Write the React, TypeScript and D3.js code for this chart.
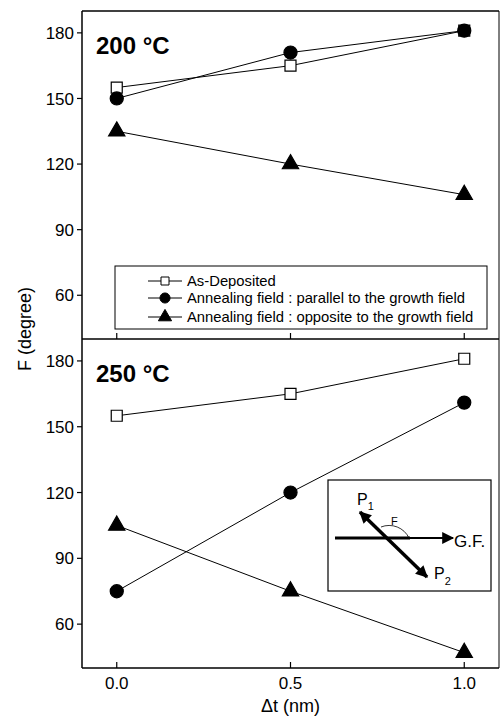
import React from "react";
import * as d3 from "d3";

// thickness values (nm) and angle F (degree) for the two annealing temperatures
const thickness = [0.0, 0.5, 1.0];
const xTicks = [0.0, 0.5, 1.0];
const yTicks = [60, 90, 120, 150, 180];

const asDeposited200 = [155, 165, 181];
const parallel200 = [150, 171, 181];
const opposite200 = [135, 120, 106];

const asDeposited250 = [155, 165, 181];
const parallel250 = [75, 120, 161];
const opposite250 = [105, 75, 47];

const legendLabels = [
  "As-Deposited",
  "Annealing field : parallel to the growth field",
  "Annealing field : opposite to the growth field",
];

const FONT = "'Liberation Sans', Arial, Helvetica, sans-serif";

const left = 82;
const right = 499;
const top = 11;
const mid = 339;
const bottom = 668;

const x = d3.scaleLinear().domain([-0.1, 1.1]).range([left, right]);
const yTop = d3.scaleLinear().domain([40, 190]).range([mid, top]);
const yBot = d3.scaleLinear().domain([40, 190]).range([bottom, mid]);

const squarePath = d3.symbol().type(d3.symbolSquare).size(121)();
const circlePath = d3.symbol().type(d3.symbolCircle).size(135)();
const trianglePath = d3.symbol().type(d3.symbolTriangle).size(115)();

const squareSmall = d3.symbol().type(d3.symbolSquare).size(64)();
const circleSmall = d3.symbol().type(d3.symbolCircle).size(80)();
const triangleSmall = d3.symbol().type(d3.symbolTriangle).size(75)();

type SeriesDef = { values: number[]; kind: "square" | "circle" | "triangle" };

const Panel = ({
  y,
  series,
  title,
  titleY,
}: {
  y: d3.ScaleLinear<number, number>;
  series: SeriesDef[];
  title: string;
  titleY: number;
}) => {
  const line = d3
    .line<number>()
    .x((_, i) => x(thickness[i]))
    .y((d) => y(d));
  const [y0, y1] = y.range();
  return (
    <g>
      {/* y ticks, outward */}
      {yTicks.map((t) => (
        <g key={t}>
          <line x1={left - 5} x2={left} y1={y(t)} y2={y(t)} stroke="#000" strokeWidth={1.2} />
          <text
            x={left - 8}
            y={y(t)}
            dy="0.36em"
            textAnchor="end"
            fontSize={17}
            fontFamily={FONT}
          >
            {t}
          </text>
        </g>
      ))}
      {/* x ticks, inward */}
      {xTicks.map((t) => (
        <line key={t} x1={x(t)} x2={x(t)} y1={y0} y2={y0 - 6} stroke="#000" strokeWidth={1.2} />
      ))}
      {series.map((s, i) => (
        <path key={"l" + i} d={line(s.values) || ""} fill="none" stroke="#000" strokeWidth={1} />
      ))}
      {series.map((s, i) =>
        s.values.map((v, j) => (
          <path
            key={"m" + i + "-" + j}
            transform={`translate(${x(thickness[j])},${y(v)})`}
            d={s.kind === "square" ? squarePath! : s.kind === "circle" ? circlePath! : trianglePath!}
            fill={s.kind === "square" ? "#fff" : "#000"}
            stroke="#000"
            strokeWidth={1.2}
          />
        ))
      )}
      <text x={96} y={titleY} fontSize={24} fontWeight="bold" fontFamily={FONT}>
        {title}
      </text>
      <line x1={left} x2={right} y1={y1} y2={y1} stroke="#000" strokeWidth={1.3} />
    </g>
  );
};

const App = () => {
  const legendRows = [mid - 58, mid - 41, mid - 22];
  const legendSymbols = [squareSmall, circleSmall, triangleSmall];
  return (
    <svg
      width={500}
      height={718}
      style={{ position: "absolute", left: 0, top: 0, background: "#fff" }}
    >
      <rect x={0} y={0} width={500} height={718} fill="#fff" />
      <Panel
        y={yTop}
        title="200 °C"
        titleY={54}
        series={[
          { values: asDeposited200, kind: "square" },
          { values: parallel200, kind: "circle" },
          { values: opposite200, kind: "triangle" },
        ]}
      />
      <Panel
        y={yBot}
        title="250 °C"
        titleY={382}
        series={[
          { values: asDeposited250, kind: "square" },
          { values: parallel250, kind: "circle" },
          { values: opposite250, kind: "triangle" },
        ]}
      />
      {/* frame */}
      <line x1={left} x2={left} y1={top} y2={bottom} stroke="#000" strokeWidth={1.5} />
      <line x1={left} x2={right} y1={bottom} y2={bottom} stroke="#000" strokeWidth={1.5} />
      <line x1={right} x2={right} y1={top} y2={bottom} stroke="#000" strokeWidth={1} />

      {/* legend */}
      <rect x={115} y={266} width={372} height={63} fill="#fff" stroke="#000" strokeWidth={1} />
      {legendLabels.map((lab, i) => (
        <g key={lab}>
          <line x1={148} x2={182} y1={legendRows[i]} y2={legendRows[i]} stroke="#000" strokeWidth={1} />
          <path
            transform={`translate(165,${legendRows[i]})`}
            d={legendSymbols[i]!}
            fill={i === 0 ? "#fff" : "#000"}
            stroke="#000"
            strokeWidth={1}
          />
          <text x={187} y={legendRows[i]} dy="0.36em" fontSize={14.8} fontFamily={FONT}>
            {lab}
          </text>
        </g>
      ))}

      {/* inset sketch */}
      <defs>
        <marker id="ahBig" viewBox="0 0 10 10" refX={9} refY={5} markerWidth={15} markerHeight={12} orient="auto-start-reverse" markerUnits="userSpaceOnUse">
          <path d="M0,0 L10,5 L0,10 Z" fill="#000" />
        </marker>
      </defs>
      <rect x={328} y={480} width={163} height={111} fill="#fff" stroke="#000" strokeWidth={1.2} />
      <line x1={335} x2={410} y1={538} y2={538} stroke="#000" strokeWidth={3} />
      <line x1={410} x2={453} y1={538} y2={538} stroke="#000" strokeWidth={1.8} markerEnd="url(#ahBig)" />
      <line x1={360} x2={427} y1={512} y2={577} stroke="#000" strokeWidth={3.5} markerStart="url(#ahBig)" markerEnd="url(#ahBig)" />
      <path d="M381,527 A22,22 0 0 1 409,538" fill="none" stroke="#000" strokeWidth={0.8} />
      <text x={391} y={525} fontSize={11} fontFamily={FONT}>F</text>
      <text x={454} y={547} fontSize={17} fontFamily={FONT}>G.F.</text>
      <text x={357} y={505} fontSize={16} fontFamily={FONT}>
        P<tspan fontSize={11} dy={5}>1</tspan>
      </text>
      <text x={434} y={579} fontSize={16} fontFamily={FONT}>
        P<tspan fontSize={11} dy={6}>2</tspan>
      </text>

      {/* x axis labels */}
      {xTicks.map((t) => (
        <text key={t} x={x(t)} y={689} textAnchor="middle" fontSize={17} fontFamily={FONT}>
          {t.toFixed(1)}
        </text>
      ))}
      <text x={x(0.5)} y={712} textAnchor="middle" fontSize={18} fontFamily={FONT}>
        Δt (nm)
      </text>
      <text
        transform={`translate(31,329) rotate(-90)`}
        textAnchor="middle"
        fontSize={18}
        fontFamily={FONT}
      >
        F (degree)
      </text>
    </svg>
  );
};

export default App;
